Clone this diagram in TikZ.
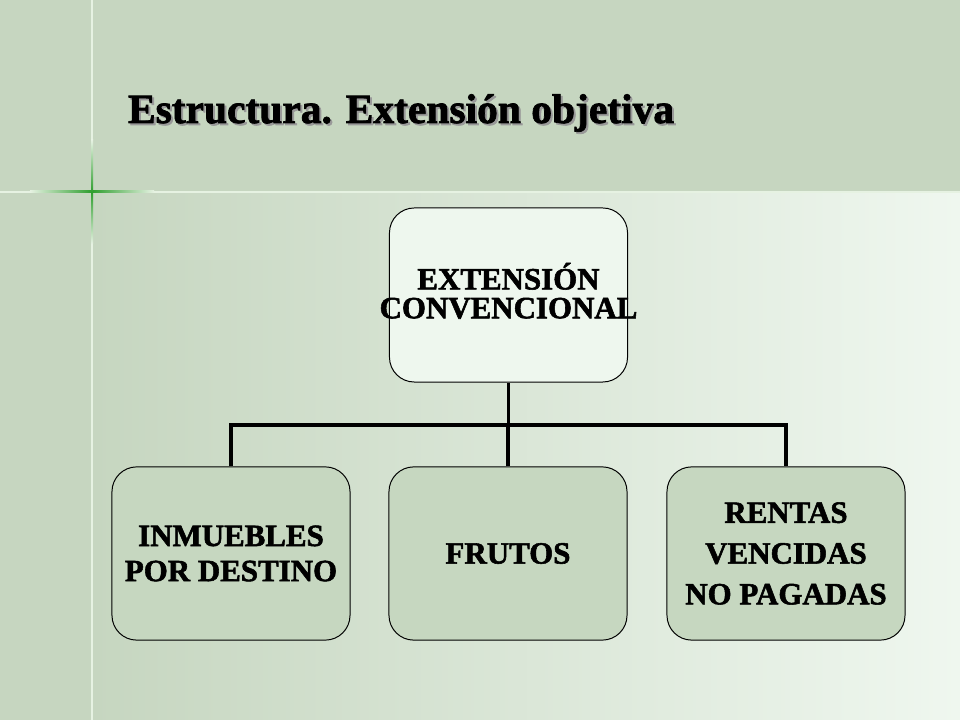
\documentclass[tikz,border=0pt]{standalone}
\usepackage{fontspec}
\setmainfont{Liberation Serif}[BoldFeatures = {FakeBold = 1.8}]
\definecolor{bgband}{HTML}{C6D6C0}
\definecolor{bglight}{HTML}{EFF7EF}
\definecolor{boxfill}{HTML}{C6D7C0}
\definecolor{topfill}{HTML}{EEF7EE}
\definecolor{crossgreen}{HTML}{2E9E2E}
\definecolor{crossline}{HTML}{E6F2E2}
\tikzset{
    box/.style = {draw = black, line width = 0.7pt, rounded corners = 0.62cm, fill = boxfill,
        minimum width = 5.95cm, minimum height = 4.33cm, align = center,
        font = \bfseries\fontsize{22}{25}\selectfont},
    link/.style = {line width = 2.2pt}
}
\begin{document}
\begin{tikzpicture}[x = 0.025cm, y = -0.025cm]
        \useasboundingbox (0, 0) rectangle (960, 720);
        \fill[bgband] (0, 0) rectangle (960, 720);
        \shade[left color = bgband, right color = bglight] (92, 192) rectangle (960, 720);
        \draw[crossline, line width = 1.2pt] (92, 0) -- (92, 720);
        \draw[crossline, line width = 1.2pt] (0, 192) -- (960, 192);
        \shade[left color = crossline, right color = crossline, middle color = crossgreen] (30, 191) rectangle (154, 193);
        \shade[top color = crossline, bottom color = crossline, middle color = crossgreen] (91, 140) rectangle (93, 244);
        \node (titleshadow) at (125, 125) [anchor = base west, text = black!40, font = \bfseries\fontsize{29.5}{34}\selectfont] {Estructura. Extensión objetiva};
        \node (title) at (123, 123) [anchor = base west, font = \bfseries\fontsize{29.5}{34}\selectfont] {Estructura. Extensión objetiva};
        \node (conv) at (508.5, 295) [box, fill = topfill, minimum height = 4.35cm, font = \bfseries\fontsize{22}{20.5}\selectfont] {\makebox[5cm]{EXTENSIÓN}\\\makebox[5cm]{CONVENCIONAL}\\[-0.5cm]};
        \node (inm) at (231, 553.5) [box] {INMUEBLES\\POR DESTINO};
        \node (fru) at (508, 553.5) [box] {FRUTOS};
        \node (ren) at (786, 553.5) [box, font = \bfseries\fontsize{22}{29}\selectfont] {RENTAS\\VENCIDAS\\NO PAGADAS};
        \coordinate (bus) at (508.5, 425);
        \draw[link] (conv.south) -- (bus);
        \draw[link] (inm.north) -- (inm.north |- bus) -- (ren.north |- bus) -- (ren.north);
        \draw[link] (fru.north) -- (fru.north |- bus);
    \end{tikzpicture}
\end{document}
